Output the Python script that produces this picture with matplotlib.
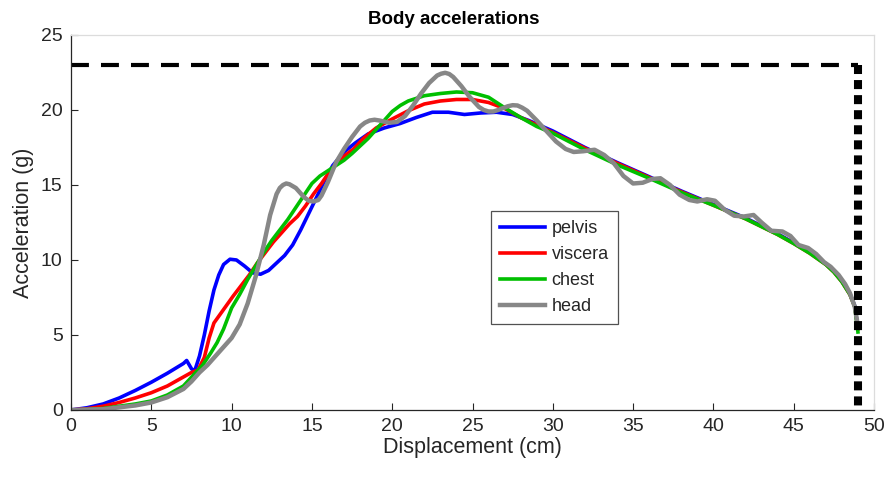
import matplotlib
matplotlib.use("Agg")
import matplotlib.pyplot as plt

plt.rcParams['font.family'] = ['Liberation Sans', 'DejaVu Sans']

title = "Body accelerations"
xlabel = "Displacement (cm)"
ylabel = "Acceleration (g)"
series_names = ["pelvis", "viscera", "chest", "head"]
x_ticks = [0, 5, 10, 15, 20, 25, 30, 35, 40, 45, 50]
y_ticks = [0, 5, 10, 15, 20, 25]
limit_accel = 23
limit_disp = 49

pelvis_x = [0, 1, 2, 3, 4, 5, 6, 7, 7.2, 7.5, 7.7, 8.0, 8.3, 8.6, 8.9, 9.2, 9.5, 9.9, 10.3,
            10.8, 11.3, 11.8, 12.3, 12.8, 13.3, 13.8, 14.3, 14.8, 15.3, 15.8, 16.3, 17, 17.7,
            18.5, 19.5, 20.5, 21.5, 22.5, 23.5, 24.5, 25.5, 26.5, 27.5, 28.5, 30, 32, 34, 36,
            38, 40, 42, 44, 45, 46, 47, 47.5, 48, 48.5, 48.8, 49]
pelvis_y = [0, 0.15, 0.4, 0.8, 1.3, 1.85, 2.45, 3.1, 3.3, 2.75, 2.6, 3.6, 5.0, 6.6, 8.0, 9.0,
            9.7, 10.05, 10.0, 9.6, 9.15, 9.05, 9.3, 9.8, 10.3, 11.0, 12.0, 13.1, 14.2, 15.3,
            16.3, 17.2, 17.8, 18.4, 18.8, 19.1, 19.5, 19.85, 19.85, 19.7, 19.8, 19.85, 19.7,
            19.3, 18.6, 17.5, 16.5, 15.55, 14.6, 13.7, 12.8, 11.75, 11.15, 10.5, 9.75, 9.25,
            8.6, 7.75, 6.95, 5.45]

viscera_x = [0, 1, 2, 3, 4, 5, 6, 7, 7.5, 7.9, 8.3, 8.6, 8.9, 9.3, 9.7, 10.1, 10.6, 11.1,
             11.6, 12.1, 12.6, 13.1, 13.6, 14.1, 14.6, 15.1, 15.6, 16.1, 16.6, 17.1, 17.6,
             18.2, 19, 20, 21, 22, 23, 24, 25, 26, 27, 28, 29, 30, 32, 34, 36, 38, 40, 42,
             44, 45, 46, 47, 47.5, 48, 48.5, 48.8, 49]
viscera_y = [0, 0.08, 0.25, 0.5, 0.8, 1.15, 1.6, 2.2, 2.5, 2.65, 3.5, 4.8, 5.8, 6.4, 7.0, 7.6,
             8.3, 9.0, 9.8, 10.5, 11.2, 11.8, 12.4, 12.9, 13.6, 14.4, 15.1, 15.9, 16.5, 17.0,
             17.4, 18.1, 18.8, 19.4, 19.95, 20.4, 20.6, 20.7, 20.7, 20.5, 20.1, 19.5, 19.0,
             18.5, 17.45, 16.45, 15.5, 14.55, 13.65, 12.75, 11.7, 11.1, 10.45, 9.7, 9.2,
             8.55, 7.7, 6.9, 5.4]

chest_x = [0, 1, 2, 3, 4, 5, 6, 7, 7.6, 8.2, 8.7, 9.1, 9.5, 10, 10.5, 11, 11.5, 12, 12.5, 13,
           13.5, 14, 14.5, 15, 15.5, 16, 16.5, 17, 17.5, 18, 18.5, 19, 19.5, 20, 20.5, 21, 22,
           23, 24, 25, 26, 27, 28, 29, 30, 32, 34, 36, 38, 40, 42, 44, 45, 46, 47, 47.5, 48,
           48.5, 48.8, 49]
chest_y = [0, 0.03, 0.1, 0.25, 0.4, 0.6, 1.0, 1.6, 2.3, 3.0, 3.8, 4.5, 5.4, 6.8, 7.7, 8.7, 9.6,
           10.5, 11.3, 12.0, 12.7, 13.5, 14.3, 15.1, 15.6, 15.95, 16.3, 16.65, 17.1, 17.6,
           18.1, 18.7, 19.3, 19.9, 20.3, 20.6, 20.95, 21.1, 21.2, 21.15, 20.85, 20.15, 19.5,
           18.9, 18.45, 17.35, 16.35, 15.45, 14.5, 13.65, 12.75, 11.7, 11.1, 10.45, 9.7, 9.2,
           8.55, 7.7, 6.9, 5.2]

head_x = [0, 2, 4, 5, 6, 7, 7.5, 8, 8.5, 9, 9.5, 10, 10.5, 11, 11.5, 12, 12.4, 12.8, 13.0,
          13.2, 13.4, 13.6, 14.0, 14.5, 14.8, 15.1, 15.4, 15.6, 16.0, 16.5, 17.0, 17.5, 18.0,
          18.3, 18.6, 18.9, 19.2, 19.8, 20.3, 20.8, 21.3, 21.8, 22.3, 22.8, 23.05, 23.3,
          23.55, 23.8, 24.3, 24.8, 25.4, 25.7, 26.0, 26.3, 26.6, 27.2, 27.5, 27.8, 28.1, 28.4,
          29.0, 29.6, 30.2, 30.8, 31.3, 31.9, 32.6, 33.2, 33.8, 34.4, 35.0, 35.6, 36.2, 36.7,
          37.3, 37.9, 38.5, 39.0, 39.6, 40.1, 40.7, 41.3, 41.9, 42.5, 43.0, 43.6, 44.3, 44.8,
          45.3, 45.9, 46.4, 46.9, 47.3, 47.8, 48.2, 48.5, 48.8, 49.0]
head_y = [0, 0.05, 0.3, 0.5, 0.85, 1.4, 1.9, 2.5, 3.0, 3.6, 4.2, 4.8, 5.7, 7.1, 8.9, 11.0, 13.0,
          14.4, 14.8, 15.0, 15.1, 15.05, 14.8, 14.2, 13.95, 13.9, 14.0, 14.3, 15.2, 16.5,
          17.4, 18.2, 18.9, 19.15, 19.3, 19.35, 19.3, 19.15, 19.2, 19.6, 20.3, 21.1, 21.8,
          22.3, 22.42, 22.48, 22.4, 22.2, 21.6, 20.9, 20.2, 20.0, 19.9, 19.9, 20.0, 20.25,
          20.32, 20.3, 20.15, 19.95, 19.3, 18.6, 17.9, 17.4, 17.2, 17.25, 17.35, 17.0, 16.45,
          15.6, 15.1, 15.15, 15.4, 15.45, 15.0, 14.35, 14.0, 13.9, 14.05, 13.95, 13.35, 12.95,
          12.9, 13.0, 12.5, 11.95, 11.9, 11.6, 11.0, 10.8, 10.4, 9.85, 9.55, 9.0, 8.4, 7.8,
          6.9, 5.6]

fig = plt.figure(figsize=(8.9, 4.78), dpi=100)
ax = fig.add_axes([0.0798, 0.1423, 0.9022, 0.7845])

lw = 2.6
ax.plot(pelvis_x, pelvis_y, color=(0, 0, 1), lw=lw, label=series_names[0], solid_joinstyle='round')
ax.plot(viscera_x, viscera_y, color=(1, 0, 0), lw=lw, label=series_names[1], solid_joinstyle='round')
ax.plot(chest_x, chest_y, color=(0, 0.75, 0), lw=lw, label=series_names[2], solid_joinstyle='round')
ax.plot(head_x, head_y, color=(0.53, 0.53, 0.53), lw=3.2, label=series_names[3], solid_joinstyle='round')

ax.plot([0, limit_disp], [limit_accel, limit_accel], color='black', lw=3.0,
        dashes=(4.3, 2.9), dash_capstyle='butt')
ax.plot([limit_disp, limit_disp], [limit_accel, 0], color='black', lw=5.8,
        dashes=(1.12, 0.75), dash_capstyle='butt', clip_on=False)

ax.set_xlim(0, 50)
ax.set_ylim(0, 25)
ax.set_xticks(x_ticks)
ax.set_yticks(y_ticks)
ax.tick_params(direction='in', length=5, width=0.8, colors='#262626', labelsize=14,
               labelcolor='#262626', pad=6)
for s in ['left', 'bottom']:
    ax.spines[s].set_color('#262626')
    ax.spines[s].set_linewidth(0.9)
for s in ['top', 'right']:
    ax.spines[s].set_color('#dcdcdc')
    ax.spines[s].set_linewidth(0.9)

ax.set_title(title, fontsize=13.5, fontweight='bold', color='black', pad=8, x=0.477)
ax.set_xlabel(xlabel, fontsize=15.5, color='#262626', labelpad=1)
ax.set_ylabel(ylabel, fontsize=15.5, color='#262626', labelpad=5)

leg = ax.legend(loc='upper left', bbox_to_anchor=(0.523, 0.53), fontsize=13,
                frameon=True, fancybox=False, edgecolor='#262626', handlelength=2.5,
                handletextpad=0.35, borderpad=0.5, labelspacing=0.5, borderaxespad=0)
leg.get_frame().set_linewidth(0.9)
for t in leg.get_texts():
    t.set_color('#262626')

fig.savefig('out.png', dpi=100)
